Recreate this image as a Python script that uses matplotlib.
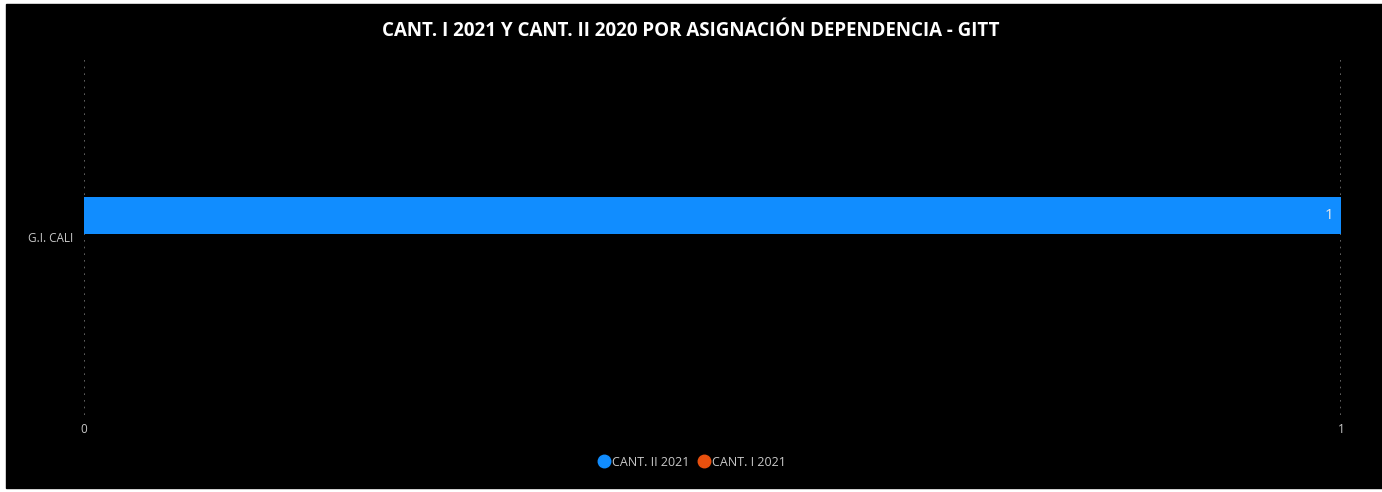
import matplotlib.pyplot as plt
from matplotlib.patches import Rectangle

categories = ["G.I. CALI"]
series_names = ["CANT. II 2021", "CANT. I 2021"]
cant_ii_2021 = [1]
cant_i_2021 = [0]
colors = ["#118DFF", "#E8500E"]

W, H = 1382, 492
fig = plt.figure(figsize=(W / 100, H / 100), dpi=100, facecolor="white")
bg = Rectangle((6 / W, 4 / H), 1, 1 - 8 / H,
               transform=fig.transFigure, color="black", zorder=-10)
fig.add_artist(bg)

ax = fig.add_axes([84 / W, 1 - 415 / H, (1341 - 84) / W, (415 - 60) / H])
ax.set_facecolor("black")
ax.set_zorder(1)
for s in ax.spines.values():
    s.set_visible(False)

h = 0.104
off = 0.062
ypos = list(range(len(categories)))
ax.barh([y - off for y in ypos], cant_ii_2021, height=h, color=colors[0], zorder=3)
ax.barh([y + off for y in ypos], cant_i_2021, height=h, color=colors[1], zorder=3)
for y, v in zip(ypos, cant_ii_2021):
    ax.text(v - 0.006, y - off, str(v), color="#e8e8e8", fontsize=11,
            ha="right", va="center", family="Open Sans", zorder=4)

ax.set_xlim(0, 1)
ax.set_ylim(0.5, -0.5)
ax.set_xticks([0, 1])
ax.set_xticklabels(["0", "1"])
ax.set_yticks(ypos)
ax.set_yticklabels(categories)
ax.tick_params(length=0, colors="#c8c8c8", labelsize=8.5)
ax.tick_params(axis="x", pad=6)
ax.tick_params(axis="y", pad=8)
for lab in ax.get_xticklabels() + ax.get_yticklabels():
    lab.set_family("Open Sans")
ax.grid(axis="x", color="#707070", linestyle=(0, (1, 3)), linewidth=1.2, zorder=1)

fig.text(0.5, 1 - 31 / H, "CANT. I 2021 Y CANT. II 2020 POR ASIGNACIÓN DEPENDENCIA - GITT",
         ha="center", va="center", color="white", fontsize=13.5, fontweight="bold",
         family="Open Sans")

handles = [plt.Line2D([], [], marker="o", linestyle="", color=c, markersize=9) for c in colors]
fig.legend(handles, series_names, loc="center", bbox_to_anchor=(0.5, 1 - 462 / H),
           ncol=2, frameon=False, labelcolor="#c8c8c8",
           handletextpad=0.0, columnspacing=0.6, handlelength=1.2,
           prop={"family": "Open Sans", "size": 9})

fig.savefig("out.png", dpi=100, facecolor="white")
